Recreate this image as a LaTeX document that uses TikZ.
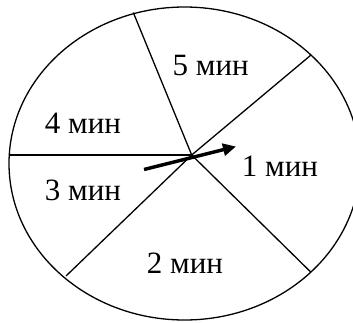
\documentclass[tikz,border=0pt]{standalone}
\usepackage{fontspec}
\setmainfont{Liberation Serif}
\usetikzlibrary{arrows.meta, positioning, calc}

\begin{document}
\begin{tikzpicture}[
    x=1pt, y=-1pt,
    spoke/.style={draw, line width=1.3pt},
    sector/.style={font=\fontsize{31}{34}\selectfont, inner sep=0pt},
    pointer/.style={-{Triangle[length=13pt, width=12pt]}, line width=3.5pt}
  ]
    \clip (0,0) rectangle (353,322);
    % wheel
    \draw[line width=1.3pt] (184.5,163.5) ellipse [x radius=175.5, y radius=156.5];

    \coordinate (hub) at (191.7,155);
    \coordinate (w) at (9,155);
    \coordinate (n) at (133.3,12.5);
    \coordinate (ne) at (311,55);
    \coordinate (se) at (310.7,272);
    \coordinate (sw) at (66,276);

    \draw[spoke] (hub) -- (w);
    \draw[spoke] (hub) -- (n);
    \draw[spoke] (hub) -- (ne);
    \draw[spoke] (hub) -- (se);
    \draw[spoke] (hub) -- (sw);

    \node[sector] (m5) at (210.7,65) {5 мин};
    \node[sector] (m4) at (83,123) {4 мин};
    \node[sector] (m3) at (83,190) {3 мин};
    \node[sector] (m1) at (280,166) {1 мин};
    \node[sector] (m2) at (185,263) {2 мин};

    \coordinate (tail) at (144,169.5);
    \coordinate (tip) at (236,146.5);
    \draw[pointer] (tail) -- (tip);
  \end{tikzpicture}
\end{document}
